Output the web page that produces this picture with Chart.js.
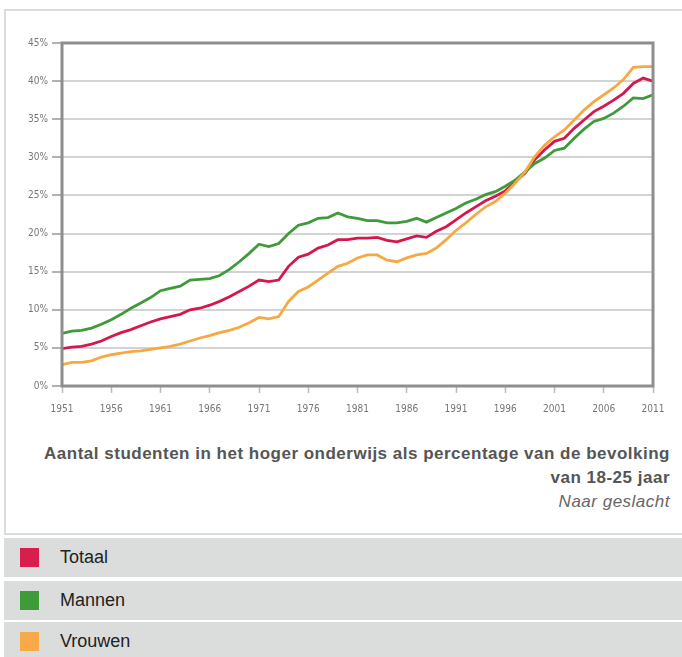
<!DOCTYPE html>
<html>
<head>
<meta charset="utf-8">
<script src="https://cdn.jsdelivr.net/npm/chart.js@4.4.1/dist/chart.umd.min.js"></script>
<style>
  body { margin: 0; background: #fff; font-family: "Liberation Sans", Arial, sans-serif; }
  #wrap { position: relative; width: 682px; height: 657px; overflow: hidden; }
  #box { position: absolute; left: 4px; top: 9px; width: 684px; height: 526px; border: 2px solid #d9dddc; box-sizing: border-box; }
  #chartBox { position: absolute; left: 0; top: 0; width: 682px; height: 420px; }
  .title { position: absolute; right: 12px; text-align: right; color: #555; font-size: 17px; letter-spacing: 0.5px; white-space: nowrap; }
  .legend { position: absolute; left: 4px; width: 680px; height: 39px; background: #dadddc; }
  .legend span.sw { position: absolute; left: 16px; top: 10px; width: 19px; height: 19px; }
  .legend span.lb { position: absolute; left: 56px; top: 9px; font-size: 18px; color: #222; }
</style>
</head>
<body>
<div id="wrap">
  <div id="box"></div>
  <div id="chartBox"><canvas id="lineChart" width="682" height="420"></canvas></div>
  <div class="title" style="top:444px;font-weight:bold;">Aantal studenten in het hoger onderwijs als percentage van de bevolking</div>
  <div class="title" style="top:468px;font-weight:bold;">van 18-25 jaar</div>
  <div class="title" style="top:492px;font-style:italic;color:#666;">Naar geslacht</div>
  <div class="legend" style="top:538px;"><span class="sw" style="background:#d81e4d"></span><span class="lb">Totaal</span></div>
  <div class="legend" style="top:581px;"><span class="sw" style="background:#3f9a39"></span><span class="lb">Mannen</span></div>
  <div class="legend" style="top:622px;height:40px;"><span class="sw" style="background:#f8aa48"></span><span class="lb">Vrouwen</span></div>
</div>
<script>
// years 1951 - 2011
const years = [];
for (let y = 1951; y <= 2011; y++) years.push(y);

const totaal = [4.9, 5.1, 5.2, 5.5, 5.9, 6.5, 7.0, 7.4, 7.9, 8.4,
  8.8, 9.1, 9.4, 10.0, 10.2, 10.6, 11.1, 11.7, 12.4, 13.1,
  13.9, 13.7, 13.9, 15.7, 16.9, 17.3, 18.1, 18.5, 19.2, 19.2,
  19.4, 19.4, 19.5, 19.1, 18.9, 19.3, 19.7, 19.5, 20.3, 20.9,
  21.8, 22.7, 23.5, 24.3, 24.9, 25.6, 26.8, 27.9, 29.7, 31.0,
  32.1, 32.5, 33.8, 34.9, 36.0, 36.7, 37.5, 38.4, 39.7, 40.4,
  40.0];

const mannen = [6.9, 7.2, 7.3, 7.6, 8.1, 8.7, 9.4, 10.2, 10.9, 11.6,
  12.5, 12.8, 13.1, 13.9, 14.0, 14.1, 14.5, 15.3, 16.3, 17.4,
  18.6, 18.3, 18.7, 20.0, 21.1, 21.4, 22.0, 22.1, 22.7, 22.2,
  22.0, 21.7, 21.7, 21.4, 21.4, 21.6, 22.0, 21.5, 22.1, 22.7,
  23.3, 24.0, 24.5, 25.1, 25.5, 26.2, 27.0, 28.1, 29.2, 29.9,
  30.9, 31.2, 32.5, 33.7, 34.7, 35.1, 35.8, 36.7, 37.8, 37.7,
  38.2];

const vrouwen = [2.8, 3.1, 3.1, 3.3, 3.8, 4.1, 4.3, 4.5, 4.6, 4.8,
  5.0, 5.2, 5.5, 5.9, 6.3, 6.6, 7.0, 7.3, 7.7, 8.3,
  9.0, 8.8, 9.1, 11.1, 12.4, 13.0, 13.9, 14.8, 15.7, 16.1,
  16.8, 17.2, 17.2, 16.5, 16.3, 16.8, 17.2, 17.4, 18.1, 19.2,
  20.4, 21.4, 22.5, 23.5, 24.2, 25.3, 26.6, 28.1, 30.1, 31.6,
  32.7, 33.6, 34.9, 36.2, 37.3, 38.2, 39.1, 40.2, 41.8, 41.9,
  41.9];

const pts = arr => arr.map((v, i) => ({ x: years[i], y: v }));

// frame around the plot area
const frame = {
  id: 'frame',
  afterDatasetsDraw(chart) {
    const a = chart.chartArea, c = chart.ctx;
    c.save();
    c.strokeStyle = '#8e8e8e';
    c.lineWidth = 3;
    c.strokeRect(a.left, a.top, a.right - a.left, a.bottom - a.top);
    c.restore();
  }
};

const ctx = document.getElementById('lineChart').getContext('2d');
const lineChart = new Chart(ctx, {
  type: 'line',
  data: {
    datasets: [
      { label: 'Vrouwen', data: pts(vrouwen), borderColor: '#f7a843', borderWidth: 2.8, pointRadius: 0, tension: 0 },
      { label: 'Mannen', data: pts(mannen), borderColor: '#3f9a39', borderWidth: 2.8, pointRadius: 0, tension: 0 },
      { label: 'Totaal', data: pts(totaal), borderColor: '#d4184e', borderWidth: 2.8, pointRadius: 0, tension: 0 }
    ]
  },
  plugins: [frame],
  options: {
    responsive: false,
    animation: false,
    layout: { padding: { top: 43, right: 29, bottom: 0, left: 0 } },
    scales: {
      x: {
        type: 'linear',
        min: 1951,
        max: 2011,
        afterFit: s => { s.height = 34; },
        ticks: {
          stepSize: 5,
          padding: 10,
          maxRotation: 0,
          color: '#777',
          font: { family: 'DejaVu Sans Condensed', size: 10 },
          callback: v => String(v)
        },
        grid: { drawOnChartArea: false, drawTicks: true, tickLength: 7, tickColor: '#bbb', tickWidth: 1.5 },
        border: { display: false }
      },
      y: {
        min: 0,
        max: 45,
        afterFit: s => { s.width = 62; },
        ticks: {
          stepSize: 5,
          padding: 4,
          color: '#777',
          font: { family: 'DejaVu Sans Condensed', size: 10 },
          callback: v => v + '%'
        },
        grid: { color: '#d3d3d3', lineWidth: 2, tickLength: 10, tickColor: '#999', tickWidth: 1.5 },
        border: { display: false }
      }
    },
    plugins: {
      legend: { display: false },
      tooltip: { enabled: false }
    }
  }
});
</script>
</body>
</html>
